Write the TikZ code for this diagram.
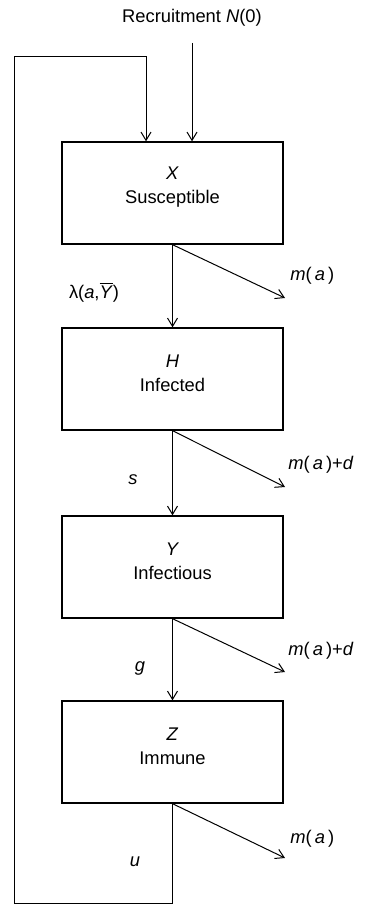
\documentclass[tikz,border=0pt]{standalone}
\usepackage{fontspec}
\setmainfont{Liberation Sans}
\usetikzlibrary{arrows.meta,positioning,calc}

\begin{document}
\begin{tikzpicture}[x=0.6pt,y=-0.6pt,>={Straight Barb[length=5pt,width=6pt]},
 font=\fontsize{11}{14.4}\selectfont,
 comp/.style={draw,line width=0.8pt,minimum width=132.6pt,minimum height=61.2pt},
 comptxt/.style={align=center,inner sep=0pt},
 flow/.style={->,line width=0.6pt},
 rate/.style={inner sep=0pt}]
\useasboundingbox (0,0) rectangle (365,907);
% compartments
\node[comp] (X) at (172.5,193) {};
\node[comp] (H) at (172.5,379) {};
\node[comp] (Y) at (172.5,567) {};
\node[comp] (Z) at (172.5,752) {};
\node[comptxt] (tX) at ($(X.center)+(0,-6)$) {\textit{X}\\Susceptible};
\node[comptxt] (tH) at ($(H.center)+(0,-6)$) {\textit{H}\\Infected};
\node[comptxt] (tY) at ($(Y.center)+(0,-6)$) {\textit{Y}\\Infectious};
\node[comptxt] (tZ) at ($(Z.center)+(0,-6)$) {\textit{Z}\\Immune};
% recruitment
\node[rate] (rec) at (192,18) {Recruitment \textit{N}(0)};
\coordinate (rtop) at (192,43);
\draw[flow] (rtop) -- (rtop |- X.north);
% transitions
\draw[flow] (X.south) -- (H.north);
\draw[flow] (H.south) -- (Y.north);
\draw[flow] (Y.south) -- (Z.north);
\node[rate] (lam) at (94,292) {λ(\textit{a},$\overline{\mbox{\textit{Y}}}$)};
\node[rate] (s) at (133,480) {\textit{s}};
\node[rate] (g) at (140,668) {\textit{g}};
\node[rate] (u) at (135,862) {\textit{u}};
% deaths
\coordinate (dX) at (285,298);
\coordinate (dH) at (285,487);
\coordinate (dY) at (285,672);
\coordinate (dZ) at (285,858);
\draw[flow] (X.south) -- (dX);
\draw[flow] (H.south) -- (dH);
\draw[flow] (Y.south) -- (dY);
\draw[flow] (Z.south) -- (dZ);
\node[rate,anchor=west] (mX) at ($(dX)+(5,-22)$) {\textit{m}(\,\textit{a}\,)};
\node[rate,anchor=west] (mH) at ($(dH)+(3,-22)$) {\textit{m}(\,\textit{a}\,)+\textit{d}};
\node[rate,anchor=west] (mY) at ($(dY)+(3,-21)$) {\textit{m}(\,\textit{a}\,)+\textit{d}};
\node[rate,anchor=west] (mZ) at ($(dZ)+(5,-19)$) {\textit{m}(\,\textit{a}\,)};
% loss of immunity back to X
\coordinate (lbot) at (14,903);
\coordinate (ltop) at (14,57);
\coordinate (fbin) at ($(X.north)+(-26.5,0)$);
\draw[flow] (Z.south) |- (lbot) -- (ltop) -- (ltop -| fbin) -- (fbin);
\end{tikzpicture}
\end{document}
